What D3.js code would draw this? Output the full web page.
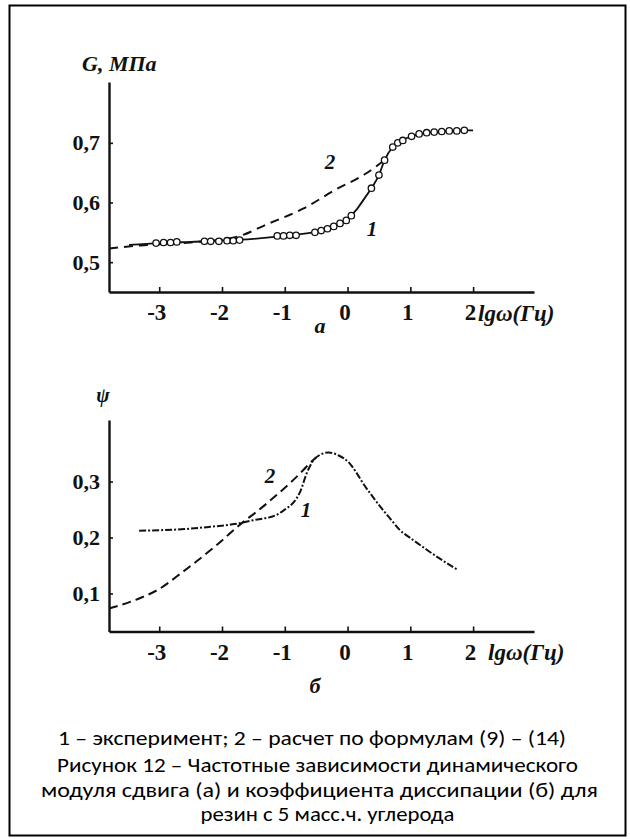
<!DOCTYPE html>
<html>
<head>
<meta charset="UTF-8">
<script src="https://cdn.jsdelivr.net/npm/d3@7"></script>
</head>
<body style="margin:0">
<script>
// (а) модуль сдвига G, МПа
// кривая 1 - эксперимент (линия)
const lgA1 = [-3.48, -3.0, -2.5, -2.0, -1.5, -1.0, -0.5, -0.2, 0.0, 0.15, 0.25, 0.38, 0.5, 0.59, 0.72, 0.83, 1.02, 1.2, 1.5, 1.8, 2.0];
const gA1 = [0.529, 0.532, 0.534, 0.536, 0.539, 0.544, 0.551, 0.561, 0.573, 0.589, 0.604, 0.624, 0.646, 0.671, 0.693, 0.702, 0.711, 0.716, 0.719, 0.721, 0.721];
// точки эксперимента
const lgA1pts = [-3.05, -2.93, -2.82, -2.72, -2.28, -2.18, -2.05, -1.92, -1.82, -1.72, -1.12, -1.02, -0.92, -0.82,
  -0.52, -0.42, -0.32, -0.22, -0.12, -0.02, 0.06, 0.38, 0.5, 0.59, 0.72, 0.8, 0.88, 1.02, 1.14, 1.26, 1.38, 1.5, 1.62, 1.74, 1.86];
const gA1pts = [0.532, 0.533, 0.533, 0.534, 0.535, 0.535, 0.535, 0.536, 0.536, 0.537, 0.544, 0.544, 0.545, 0.545,
  0.550, 0.553, 0.556, 0.560, 0.565, 0.570, 0.578, 0.624, 0.646, 0.671, 0.693, 0.700, 0.704, 0.711, 0.715, 0.717, 0.718, 0.719, 0.720, 0.720, 0.721];
// кривая 2 - расчет
const lgA2 = [-3.8, -3.3, -2.5, -2.0, -1.75, -1.25, -0.7, -0.2, 0.3, 0.6];
const gA2 = [0.523, 0.528, 0.533, 0.538, 0.543, 0.565, 0.590, 0.621, 0.649, 0.672];

// (б) коэффициент диссипации ψ
const lgB1 = [-3.32, -3.0, -2.6, -2.2, -1.8, -1.5, -1.14, -1.0, -0.85, -0.75, -0.65, -0.55, -0.45, -0.3, -0.15, 0.03, 0.14, 0.24, 0.4, 0.55, 0.7, 0.82, 1.04, 1.25, 1.57, 1.76];
const psiB1 = [0.212, 0.213, 0.215, 0.219, 0.224, 0.231, 0.240, 0.250, 0.264, 0.283, 0.315, 0.337, 0.347, 0.352, 0.347, 0.333, 0.316, 0.298, 0.273, 0.251, 0.231, 0.215, 0.196, 0.179, 0.155, 0.142];
const lgB2 = [-3.8, -3.32, -3.0, -2.62, -2.1, -1.67, -1.46, -1.14, -0.7, -0.6, -0.5];
const psiB2 = [0.073, 0.091, 0.108, 0.139, 0.185, 0.227, 0.245, 0.275, 0.321, 0.333, 0.343];

const xTicks = [-3, -2, -1, 0, 1, 2];
const yTicksA = [0.5, 0.6, 0.7];
const yTicksB = [0.1, 0.2, 0.3];

const captions = [
  "1 – эксперимент; 2 – расчет по формулам (9) – (14)",
  "Рисунок 12 – Частотные зависимости динамического",
  "модуля сдвига (а) и коэффициента диссипации (б) для",
  "резин с 5 масс.ч. углерода"
];

const serifFont = "'Liberation Serif', monospace";
const capFont = "'Carlito', monospace";
const width = 630, height = 839;

const svg = d3.select("body").append("svg")
  .attr("width", width)
  .attr("height", height);

svg.append("rect")
  .attr("x", 9.5).attr("y", 5.5)
  .attr("width", 616).attr("height", 830)
  .attr("fill", "none").attr("stroke", "#000").attr("stroke-width", 2);

const x = d3.scaleLinear().domain([-3.8, 2.97]).range([109, 534]);
const yA = d3.scaleLinear().domain([0.45, 0.802]).range([292, 82]);
const yB = d3.scaleLinear().domain([0.032, 0.41]).range([631.5, 420]);

// рисует оси одной панели
function drawAxes(yScale, yTicks, axisY) {
  const gx = svg.append("g")
    .attr("transform", "translate(0," + axisY + ")")
    .call(d3.axisBottom(x).tickValues(xTicks).tickFormat(d => String(d))
      .tickSizeInner(-5).tickSizeOuter(0).tickPadding(12));
  gx.selectAll(".tick text").attr("font-size", 23).attr("dx", -3);

  const gy = svg.append("g")
    .attr("transform", "translate(" + x.range()[0] + ",0)")
    .call(d3.axisLeft(yScale).tickValues(yTicks).tickFormat(d => String(d).replace(".", ","))
      .tickSizeInner(-4).tickSizeOuter(0).tickPadding(9));
  gy.selectAll(".tick text").attr("font-size", 22);

  [gx, gy].forEach(g => {
    g.attr("font-family", serifFont).attr("font-weight", "bold");
    g.selectAll(".tick text").attr("fill", "#111");
    g.select(".domain").attr("stroke", "#111").attr("stroke-width", 2.4);
    g.selectAll(".tick line").attr("stroke", "#111").attr("stroke-width", 1.6);
  });
}

drawAxes(yA, yTicksA, 292);
drawAxes(yB, yTicksB, 631.5);

const lineA = d3.line().x(d => x(d[0])).y(d => yA(d[1])).curve(d3.curveMonotoneX);
const lineB = d3.line().x(d => x(d[0])).y(d => yB(d[1])).curve(d3.curveMonotoneX);

// панель (а)
svg.append("path")
  .attr("d", lineA(d3.zip(lgA2, gA2)))
  .attr("fill", "none").attr("stroke", "#111").attr("stroke-width", 2)
  .attr("stroke-dasharray", "9,6");

svg.append("path")
  .attr("d", lineA(d3.zip(lgA1, gA1)))
  .attr("fill", "none").attr("stroke", "#111").attr("stroke-width", 1.8);

svg.selectAll(".pt")
  .data(d3.zip(lgA1pts, gA1pts))
  .enter().append("circle")
  .attr("class", "pt")
  .attr("cx", d => x(d[0]))
  .attr("cy", d => yA(d[1]))
  .attr("r", 3.2)
  .attr("fill", "#fff").attr("stroke", "#111").attr("stroke-width", 1.3);

// панель (б)
svg.append("path")
  .attr("d", lineB(d3.zip(lgB2, psiB2)))
  .attr("fill", "none").attr("stroke", "#111").attr("stroke-width", 2)
  .attr("stroke-dasharray", "9,5");

svg.append("path")
  .attr("d", lineB(d3.zip(lgB1, psiB1)))
  .attr("fill", "none").attr("stroke", "#111").attr("stroke-width", 2)
  .attr("stroke-dasharray", "7,2,2,2");

// подписи
const labels = [
  { t: "G, МПа", x: 82, y: 71, s: 22, a: "start" },
  { t: "lgω(Гц)", x: 478, y: 321, s: 23, a: "start" },
  { t: "а", x: 320, y: 333, s: 22, a: "middle" },
  { t: "2", x: 330, y: 169, s: 21, a: "middle" },
  { t: "1", x: 372, y: 236, s: 21, a: "middle" },
  { t: "ψ", x: 103, y: 402, s: 20, a: "middle" },
  { t: "lgω(Гц)", x: 488, y: 660, s: 23, a: "start" },
  { t: "б", x: 315, y: 693, s: 22, a: "middle" },
  { t: "2", x: 270, y: 483, s: 21, a: "middle" },
  { t: "1", x: 306, y: 517, s: 21, a: "middle" }
];

svg.selectAll(".lbl")
  .data(labels)
  .enter().append("text")
  .attr("class", "lbl")
  .attr("x", d => d.x).attr("y", d => d.y)
  .attr("font-size", d => d.s)
  .attr("text-anchor", d => d.a)
  .attr("fill", "#111")
  .attr("font-family", serifFont)
  .attr("font-weight", "bold")
  .attr("font-style", "italic")
  .text(d => d.t);

// подрисуночная подпись
const capX = [312, 317.5, 319.5, 327.5];
const capY = [745, 772, 797, 821];
const capW = [508, 521, 557, 254];

svg.selectAll(".cap")
  .data(captions)
  .enter().append("text")
  .attr("class", "cap")
  .attr("x", (d, i) => capX[i])
  .attr("y", (d, i) => capY[i])
  .attr("text-anchor", "middle")
  .attr("font-size", 21)
  .attr("font-family", capFont)
  .attr("textLength", (d, i) => capW[i])
  .attr("lengthAdjust", "spacingAndGlyphs")
  .text(d => d);
</script>
</body>
</html>
